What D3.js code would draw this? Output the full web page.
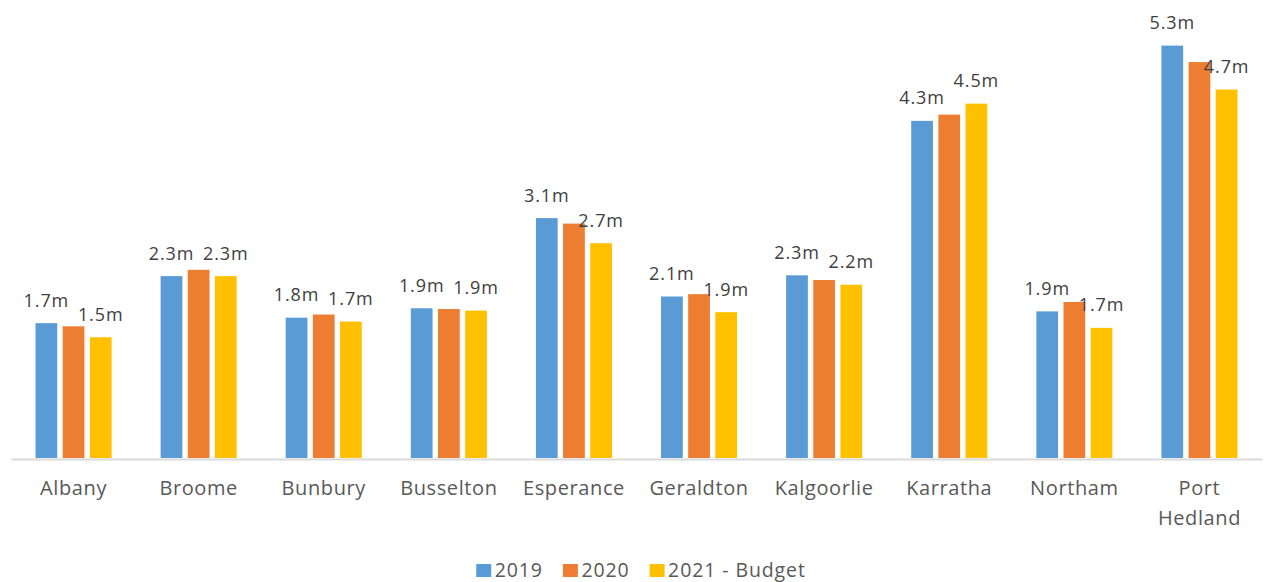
<!DOCTYPE html>
<html>
<head>
<meta charset="utf-8">
<script src="https://cdn.jsdelivr.net/npm/d3@7"></script>
<style>
  html, body { margin: 0; padding: 0; background: #ffffff; }
  svg { display: block; font-family: "Open Sans", "Noto Sans", sans-serif; }
</style>
</head>
<body>
<svg id="chart" width="1264" height="582"></svg>
<script>
// Regional costs by town ($ millions)
const categories = ["Albany", "Broome", "Bunbury", "Busselton", "Esperance",
                    "Geraldton", "Kalgoorlie", "Karratha", "Northam", "Port Hedland"];
const seriesNames = ["2019", "2020", "2021 - Budget"];
const values2019 = [1.72, 2.32, 1.79, 1.91, 3.06, 2.06, 2.33, 4.30, 1.87, 5.26];
const values2020 = [1.68, 2.40, 1.83, 1.90, 2.99, 2.09, 2.27, 4.38, 1.99, 5.05];
const values2021 = [1.54, 2.32, 1.74, 1.88, 2.74, 1.86, 2.21, 4.52, 1.66, 4.70];
// Series that carry a value label above their bars
const labelledSeries = ["2019", "2021 - Budget"];
const colors = ["#5B9BD5", "#ED7D31", "#FFC000"];

const seriesValues = [values2019, values2020, values2021];
const rows = categories.map((c, i) => ({
  category: c,
  values: seriesNames.map((s, j) => ({ series: s, value: seriesValues[j][i] }))
}));

const svg = d3.select("#chart");
const baseline = 458;

const x0 = d3.scaleBand()
  .domain(categories)
  .range([11, 1262])
  .paddingInner(0.392)
  .paddingOuter(0.196);

const x1 = d3.scaleBand()
  .domain(seriesNames)
  .range([0, x0.bandwidth()])
  .paddingInner(0.2)
  .paddingOuter(0);

const y = d3.scaleLinear()
  .domain([0, 5.8])
  .range([baseline, baseline - 5.8 * 78.4]);

const color = d3.scaleOrdinal().domain(seriesNames).range(colors);
const fmt = v => d3.format(".1f")(v) + "m";

// Bars
const groups = svg.append("g")
  .selectAll("g")
  .data(rows)
  .join("g")
  .attr("transform", d => `translate(${x0(d.category)},0)`);

groups.selectAll("rect")
  .data(d => d.values)
  .join("rect")
  .attr("x", d => x1(d.series))
  .attr("y", d => y(d.value))
  .attr("width", x1.bandwidth())
  .attr("height", d => y(0) - y(d.value))
  .attr("fill", d => color(d.series));

// Value labels
groups.selectAll("text.value")
  .data(d => d.values.filter(v => labelledSeries.includes(v.series)))
  .join("text")
  .attr("class", "value")
  .attr("x", d => x1(d.series) + x1.bandwidth() / 2)
  .attr("y", d => y(d.value) - 16.5)
  .attr("text-anchor", "middle")
  .attr("font-size", 18)
  .attr("letter-spacing", "0.9px")
  .attr("fill", "#404040")
  .text(d => fmt(d.value));

// Category axis
const axis = svg.append("g")
  .attr("transform", `translate(0,${baseline})`)
  .call(d3.axisBottom(x0).tickSize(0).tickSizeOuter(0));

axis.select(".domain")
  .attr("stroke", "#d9d9d9")
  .attr("stroke-width", 2)
  .attr("transform", "translate(0,1)");

axis.selectAll(".tick text")
  .attr("font-family", "'Open Sans', 'Noto Sans', sans-serif")
  .attr("font-size", 20)
  .attr("letter-spacing", "0.6px")
  .attr("fill", "#595959")
  .attr("y", 37)
  .attr("dy", 0)
  .each(function (d) {
    const t = d3.select(this);
    if (this.getComputedTextLength() > x0.step() * 0.88) {
      const words = d.split(" ");
      t.text(null);
      words.forEach((w, i) => {
        t.append("tspan")
          .attr("x", 0)
          .attr("dy", i === 0 ? 0 : 29.5)
          .text(w);
      });
    }
  });

// Legend
const legend = svg.append("g");
let lx = 0;
seriesNames.forEach((s, i) => {
  const item = legend.append("g").attr("transform", `translate(${lx},0)`);
  item.append("rect")
    .attr("x", 0).attr("y", 564)
    .attr("width", 15).attr("height", 13)
    .attr("fill", color(s));
  const txt = item.append("text")
    .attr("x", 18.5).attr("y", 576.5)
    .attr("font-size", 19.5)
    .attr("letter-spacing", "0.9px")
    .attr("fill", "#595959")
    .text(s);
  lx += 18.5 + txt.node().getComputedTextLength() + 20;
});
const legendWidth = lx - 20;
legend.attr("transform", `translate(${641 - legendWidth / 2},0)`);
</script>
</body>
</html>
